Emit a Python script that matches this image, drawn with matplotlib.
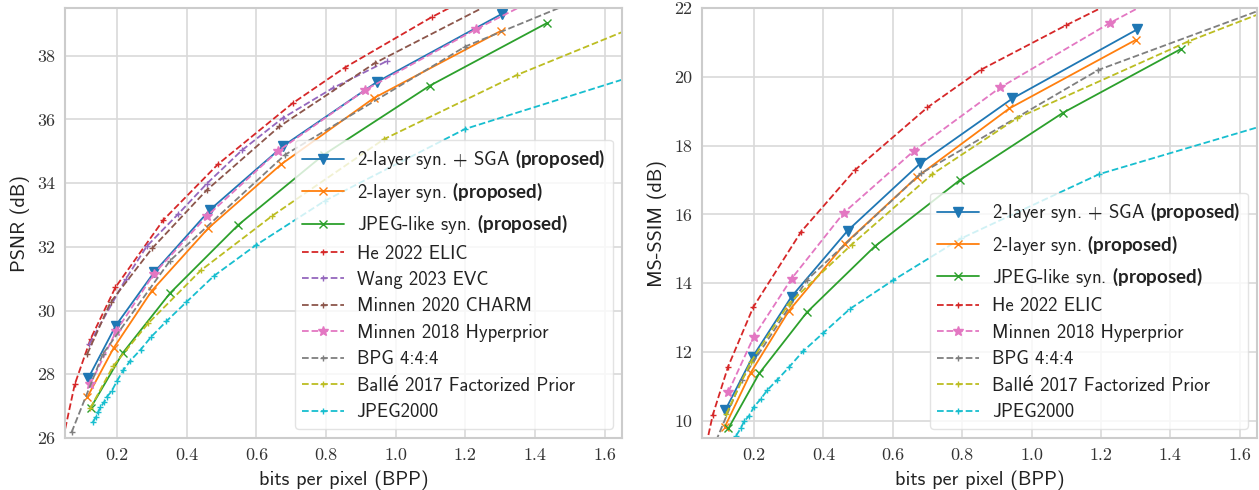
import matplotlib
matplotlib.use("Agg")
import matplotlib.pyplot as plt
import seaborn as sns

sns.set_style("whitegrid")
plt.rcParams["font.family"] = ["cmss10", "DejaVu Sans"]
plt.rcParams["mathtext.fontset"] = "custom"
plt.rcParams["mathtext.rm"] = "cmss10"
plt.rcParams["mathtext.bf"] = "Lato:bold"
plt.rcParams["axes.unicode_minus"] = False

# ---------------- data: PSNR (left) ----------------
sga_bpp = [0.117, 0.196, 0.306, 0.467, 0.677, 0.945, 1.306]
sga_psnr = [27.88, 29.53, 31.2, 33.17, 35.17, 37.17, 39.32]
two_bpp = [0.114, 0.19, 0.3, 0.462, 0.672, 0.937, 1.302]
two_psnr = [27.28, 28.83, 30.63, 32.59, 34.6, 36.67, 38.78]
jpl_bpp = [0.124, 0.216, 0.352, 0.548, 0.793, 1.098, 1.435]
jpl_psnr = [26.95, 28.67, 30.55, 32.69, 34.89, 37.06, 39.03]
elic_bpp = [0.045, 0.078, 0.124, 0.195, 0.333, 0.49, 0.704, 0.854, 1.103, 1.4]
elic_psnr = [26.0, 27.68, 29.12, 30.73, 32.85, 34.6, 36.51, 37.63, 39.21, 40.9]
evc_bpp = [0.12, 0.224, 0.285, 0.376, 0.457, 0.558, 0.675, 0.82, 0.976]
evc_psnr = [28.95, 30.98, 32.02, 33.04, 33.98, 35.03, 36.04, 36.99, 37.84]
charm_bpp = [0.114, 0.181, 0.3, 0.457, 0.666, 0.94, 1.3]
charm_psnr = [28.64, 30.26, 31.95, 33.78, 35.78, 37.77, 39.79]
hyper_bpp = [0.123, 0.198, 0.306, 0.459, 0.661, 0.913, 1.232, 1.55]
hyper_psnr = [27.7, 29.37, 31.16, 32.98, 35.0, 36.93, 38.84, 40.6]
bpg_bpp = [0.069, 0.159, 0.352, 0.682, 1.2, 1.7]
bpg_psnr = [26.18, 28.64, 31.57, 34.89, 38.29, 40.54]
balle_bpp = [0.123, 0.188, 0.289, 0.44, 0.646, 0.966, 1.349, 2.0]
balle_psnr = [26.94, 28.25, 29.6, 31.26, 32.98, 35.38, 37.4, 40.3]
j2k_bpp = [0.13, 0.138, 0.145, 0.152, 0.162, 0.171, 0.184, 0.2, 0.217, 0.238,
           0.267, 0.298, 0.341, 0.398, 0.478, 0.598, 0.797, 1.199, 2.0]
j2k_psnr = [26.49, 26.65, 26.81, 26.96, 27.12, 27.3, 27.47, 27.8, 28.12, 28.43,
            28.77, 29.18, 29.66, 30.26, 31.09, 32.05, 33.45, 35.7, 38.45]

# ---------------- data: MS-SSIM (right) ----------------
sga_ms_bpp = [0.117, 0.196, 0.308, 0.47, 0.679, 0.945, 1.305]
sga_ms = [10.31, 11.86, 13.61, 15.53, 17.48, 19.37, 21.38]
two_ms_bpp = [0.116, 0.19, 0.3, 0.462, 0.671, 0.936, 1.3]
two_ms = [9.83, 11.39, 13.19, 15.15, 17.1, 19.08, 21.07]
jpl_ms_bpp = [0.126, 0.215, 0.352, 0.548, 0.795, 1.09, 1.431]
jpl_ms = [9.78, 11.38, 13.15, 15.07, 17.01, 18.95, 20.81]
elic_ms_bpp = [0.045, 0.081, 0.125, 0.198, 0.336, 0.49, 0.7, 0.853, 1.1, 1.4]
elic_ms = [8.5, 10.17, 11.57, 13.31, 15.5, 17.28, 19.11, 20.2, 21.5, 23.0]
hyper_ms_bpp = [0.126, 0.199, 0.308, 0.459, 0.66, 0.91, 1.227, 1.55]
hyper_ms = [10.84, 12.44, 14.13, 16.05, 17.84, 19.69, 21.57, 23.3]
bpg_ms_bpp = [0.069, 0.164, 0.353, 0.681, 1.193, 1.7]
bpg_ms = [8.9, 11.19, 14.1, 17.19, 20.2, 22.09]
balle_ms_bpp = [0.12, 0.19, 0.3, 0.481, 0.714, 0.957, 1.45, 2.0]
balle_ms = [10.2, 11.7, 13.4, 15.12, 17.17, 18.79, 21.02, 23.17]
j2k_ms_bpp = [0.148, 0.162, 0.171, 0.186, 0.2, 0.219, 0.238, 0.267, 0.3, 0.341,
              0.398, 0.476, 0.6, 0.797, 1.195, 2.0]
j2k_ms = [9.56, 9.79, 9.98, 10.15, 10.41, 10.63, 10.89, 11.19, 11.55, 12.02,
          12.54, 13.25, 14.08, 15.3, 17.17, 19.57]

xticks = [0.2, 0.4, 0.6, 0.8, 1.0, 1.2, 1.4, 1.6]
xtick_labels = ["0.2", "0.4", "0.6", "0.8", "1.0", "1.2", "1.4", "1.6"]
psnr_ticks = [26, 28, 30, 32, 34, 36, 38]
ms_ticks = [10, 12, 14, 16, 18, 20, 22]

L_SGA = r"2-layer syn. + SGA $\mathbf{(proposed)}$"
L_TWO = r"2-layer syn. $\mathbf{(proposed)}$"
L_JPL = r"JPEG-like syn. $\mathbf{(proposed)}$"
L_ELIC = "He 2022 ELIC"
L_EVC = "Wang 2023 EVC"
L_CHARM = "Minnen 2020 CHARM"
L_HYP = "Minnen 2018 Hyperprior"
L_BPG = "BPG 4:4:4"
L_BALLE = "Ballé 2017 Factorized Prior"
L_J2K = "JPEG2000"

C = ["#1f77b4", "#ff7f0e", "#2ca02c", "#d62728", "#9467bd",
     "#8c564b", "#e377c2", "#7f7f7f", "#bcbd22", "#17becf"]

fig = plt.figure(figsize=(12.59, 4.9), dpi=100)
ax1 = fig.add_axes([0.0516, 0.1061, 0.4424, 0.8776])
ax2 = fig.add_axes([0.5576, 0.1061, 0.4408, 0.8776])

lw = 1.3
solid = dict(lw=lw, ls="-")
dash = dict(lw=lw, ls="--", ms=5, mew=1.0)

ax1.plot(sga_bpp, sga_psnr, marker="v", ms=7, color=C[0], label=L_SGA, **solid)
ax1.plot(two_bpp, two_psnr, marker="x", ms=6, color=C[1], label=L_TWO, **solid)
ax1.plot(jpl_bpp, jpl_psnr, marker="x", ms=6, color=C[2], label=L_JPL, **solid)
ax1.plot(elic_bpp, elic_psnr, marker="+", color=C[3], label=L_ELIC, **dash)
ax1.plot(evc_bpp, evc_psnr, marker="+", color=C[4], label=L_EVC, **dash)
ax1.plot(charm_bpp, charm_psnr, marker="+", color=C[5], label=L_CHARM, **dash)
ax1.plot(hyper_bpp, hyper_psnr, marker="*", color=C[6], label=L_HYP, lw=lw, ls="--", ms=7)
ax1.plot(bpg_bpp, bpg_psnr, marker="+", color=C[7], label=L_BPG, **dash)
ax1.plot(balle_bpp, balle_psnr, marker="+", color=C[8], label=L_BALLE, **dash)
ax1.plot(j2k_bpp, j2k_psnr, marker="+", color=C[9], label=L_J2K, **dash)

ax2.plot(sga_ms_bpp, sga_ms, marker="v", ms=7, color=C[0], label=L_SGA, **solid)
ax2.plot(two_ms_bpp, two_ms, marker="x", ms=6, color=C[1], label=L_TWO, **solid)
ax2.plot(jpl_ms_bpp, jpl_ms, marker="x", ms=6, color=C[2], label=L_JPL, **solid)
ax2.plot(elic_ms_bpp, elic_ms, marker="+", color=C[3], label=L_ELIC, **dash)
ax2.plot(hyper_ms_bpp, hyper_ms, marker="*", color=C[6], label=L_HYP, lw=lw, ls="--", ms=7)
ax2.plot(bpg_ms_bpp, bpg_ms, marker="+", color=C[7], label=L_BPG, **dash)
ax2.plot(balle_ms_bpp, balle_ms, marker="+", color=C[8], label=L_BALLE, **dash)
ax2.plot(j2k_ms_bpp, j2k_ms, marker="+", color=C[9], label=L_J2K, **dash)

tick_fs = 13
label_fs = 14.5
leg_fs = 13.5
for ax, yt, ylim, ylab in [(ax1, psnr_ticks, (26, 39.5), "PSNR (dB)"),
                           (ax2, ms_ticks, (9.5, 22), "MS-SSIM (dB)")]:
    ax.set_xlim(0.05, 1.65)
    ax.set_ylim(*ylim)
    ax.set_xticks(xticks)
    ax.set_xticklabels(xtick_labels, fontfamily="cmr10", fontsize=tick_fs)
    ax.set_yticks(yt)
    ax.set_yticklabels([str(v) for v in yt], fontfamily="cmr10", fontsize=tick_fs)
    ax.tick_params(axis="both", length=0, pad=7, colors="#333333")
    ax.set_xlabel("bits per pixel (BPP)", fontsize=label_fs, color="#222222", labelpad=5)
    ax.set_ylabel(ylab, fontsize=label_fs, color="#222222", labelpad=5)
    for s in ax.spines.values():
        s.set_color("#cccccc")
        s.set_linewidth(1.5)
    ax.grid(True, color="#d9d9d9", lw=1.2)
    leg = ax.legend(loc="lower right", prop={"family": ["cmss10", "DejaVu Sans"], "size": leg_fs},
                    framealpha=0.8, handlelength=2.2, handletextpad=0.7, labelspacing=0.45)
    leg.get_frame().set_edgecolor("#dddddd")
    for t in leg.get_texts():
        t.set_color("#222222")

fig.savefig("out.png", dpi=100)
